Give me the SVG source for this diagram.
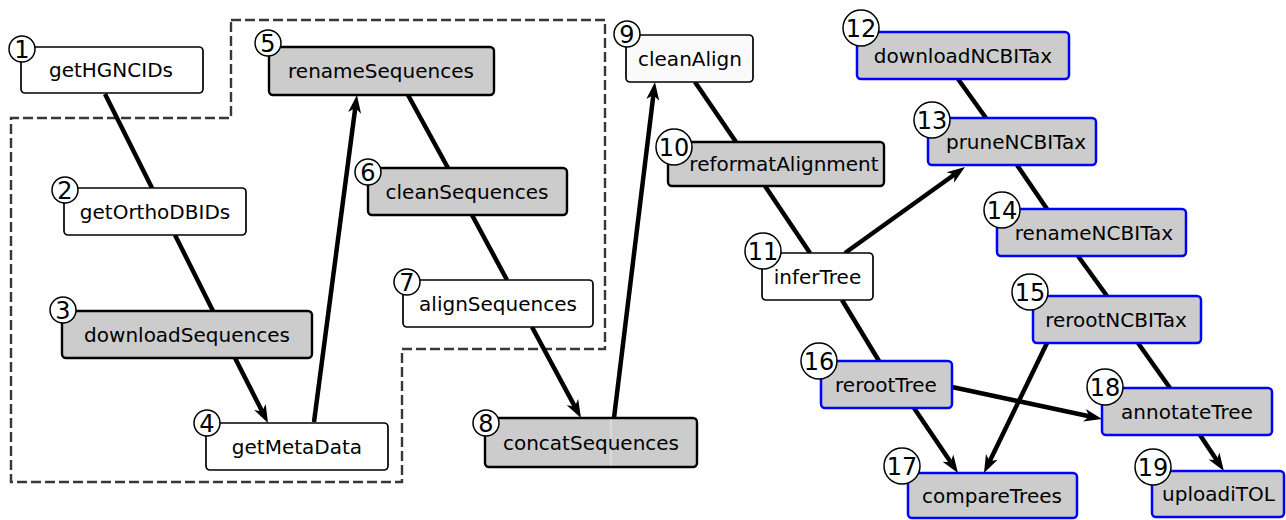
<svg xmlns="http://www.w3.org/2000/svg" width="1286" height="520" viewBox="0 0 1286 520">
<style>
.box{stroke:#000;stroke-width:1.7}
.w{fill:#fff}
.g{fill:#ccc;stroke-width:2.4}
.b{fill:#ccc;stroke:#0000ff;stroke-width:2.5}
.lbl{font-family:"DejaVu Sans",sans-serif;font-size:20px;fill:#000;text-anchor:middle}
.num circle{fill:#fbfffe;stroke:#000;stroke-width:1.5}
.num text{font-family:"DejaVu Sans",sans-serif;font-size:24px;fill:#000;text-anchor:middle}
.edge line{stroke:#000;stroke-width:4.5;fill:none}
.arr{marker-end:url(#ah)}
</style>
<defs>
<marker id="ah" markerUnits="userSpaceOnUse" markerWidth="22" markerHeight="16" viewBox="0 -8 22 16" refX="6" refY="0" orient="auto">
<path d="M0,-6.5 L18,0 L0,6.5 L5,0 Z" fill="#000"/>
</marker>
</defs>
<rect width="1286" height="520" fill="#fff"/>
<path id="group" d="M231,20 H605 V349 H402 V482 H11 V118 H231 Z" fill="none" stroke="#383838" stroke-width="2.4" stroke-dasharray="10 4"/>
<g id="connectors" class="edge">
<line x1="105" y1="94" x2="152" y2="188"/>
<line x1="175" y1="235" x2="213" y2="311"/>
<line class="arr" x1="235" y1="358" x2="262.6" y2="412.3"/>
<line class="arr" x1="314" y1="422" x2="355.4" y2="106.9"/>
<line x1="408" y1="95" x2="448" y2="168"/>
<line x1="472" y1="215" x2="507" y2="280"/>
<line class="arr" x1="532" y1="327" x2="575.3" y2="407.4"/>
<line class="arr" x1="614" y1="418" x2="653.5" y2="93.9"/>
<line x1="695" y1="82" x2="736" y2="142"/>
<line x1="765" y1="186" x2="810" y2="253"/>
<line class="arr" x1="845" y1="253" x2="955.2" y2="174"/>
<line x1="958" y1="79" x2="986" y2="118"/>
<line x1="1017" y1="165" x2="1047" y2="209"/>
<line x1="1078" y1="256" x2="1107" y2="296"/>
<line x1="842" y1="300" x2="879" y2="361"/>
<line x1="1138" y1="343" x2="1170" y2="388"/>
<line class="arr" x1="952" y1="387" x2="1090.3" y2="416.5"/>
<line class="arr" x1="914" y1="408" x2="951.3" y2="463.1"/>
<line class="arr" x1="1047" y1="343" x2="989.2" y2="462.2"/>
<line class="arr" x1="1200" y1="435" x2="1217.3" y2="461"/>
</g>
<g id="n1"><rect class="box w" x="21" y="47" width="182" height="46" rx="4"/><text class="lbl" x="111" y="77">getHGNCIDs</text><g class="num"><circle cx="22" cy="49" r="13"/><text x="22" y="57.5">1</text></g></g>
<g id="n2"><rect class="box w" x="64" y="188" width="182" height="47" rx="4"/><text class="lbl" x="155" y="218.5">getOrthoDBIDs</text><g class="num"><circle cx="65" cy="190" r="13"/><text x="65" y="198.5">2</text></g></g>
<g id="n3"><rect class="box g" x="62" y="311" width="250" height="47" rx="4"/><text class="lbl" x="187" y="341.5">downloadSequences</text><g class="num"><circle cx="63" cy="310" r="13"/><text x="63" y="318.5">3</text></g></g>
<g id="n4"><rect class="box w" x="206" y="423" width="182" height="47" rx="4"/><text class="lbl" x="297" y="453.5">getMetaData</text><g class="num"><circle cx="207" cy="423" r="13"/><text x="207" y="431.5">4</text></g></g>
<g id="n5"><rect class="box g" x="269" y="47" width="225" height="48" rx="4"/><text class="lbl" x="381" y="78">renameSequences</text><g class="num"><circle cx="268" cy="43" r="13"/><text x="268" y="51.5">5</text></g></g>
<g id="n6"><rect class="box g" x="368" y="168" width="199" height="47" rx="4"/><text class="lbl" x="467" y="198.5">cleanSequences</text><g class="num"><circle cx="368" cy="172" r="13"/><text x="368" y="180.5">6</text></g></g>
<g id="n7"><rect class="box w" x="403" y="280" width="190" height="47" rx="4"/><text class="lbl" x="498" y="310.5">alignSequences</text><g class="num"><circle cx="407" cy="282" r="13"/><text x="407" y="290.5">7</text></g></g>
<g id="n8"><rect class="box g" x="485" y="418" width="212" height="49" rx="4"/><line x1="611" y1="419.5" x2="611" y2="465.5" stroke="#e8e8e8" stroke-width="1"/><text class="lbl" x="591" y="449.5">concatSequences</text><g class="num"><circle cx="486" cy="423" r="13"/><text x="486" y="431.5">8</text></g></g>
<g id="n9"><rect class="box" fill="#fafafa" x="626" y="35" width="127" height="47" rx="4"/><text class="lbl" x="690" y="65.5">cleanAlign</text><g class="num"><circle cx="627" cy="34" r="13"/><text x="627" y="42.5">9</text></g></g>
<g id="n10"><rect class="box g" x="668" y="142" width="216" height="44" rx="4"/><text class="lbl" x="784" y="171">reformatAlignment</text><g class="num"><circle cx="674" cy="147" r="18"/><text x="674" y="155.5">10</text></g></g>
<g id="n11"><rect class="box w" x="762" y="253" width="111" height="47" rx="4"/><text class="lbl" x="817.5" y="283.5">inferTree</text><g class="num"><circle cx="763" cy="251" r="18"/><text x="763" y="259.5">11</text></g></g>
<g id="n12"><rect class="b" x="857" y="32" width="212" height="47" rx="4"/><text class="lbl" x="963" y="62.5">downloadNCBITax</text><g class="num"><circle cx="861" cy="28" r="18"/><text x="861" y="36.5">12</text></g></g>
<g id="n13"><rect class="b" x="928" y="118" width="168" height="47" rx="4"/><text class="lbl" x="1016" y="148.5">pruneNCBITax</text><g class="num"><circle cx="932" cy="120" r="18"/><text x="932" y="128.5">13</text></g></g>
<g id="n14"><rect class="b" x="997" y="209" width="189" height="47" rx="4"/><text class="lbl" x="1094" y="239.5">renameNCBITax</text><g class="num"><circle cx="1002" cy="210" r="18"/><text x="1002" y="218.5">14</text></g></g>
<g id="n15"><rect class="b" x="1033" y="296" width="168" height="47" rx="4"/><text class="lbl" x="1116" y="326.5">rerootNCBITax</text><g class="num"><circle cx="1030" cy="292" r="18"/><text x="1030" y="300.5">15</text></g></g>
<g id="n16"><rect class="b" x="821" y="361" width="131" height="47" rx="4"/><text class="lbl" x="886" y="391.5">rerootTree</text><g class="num"><circle cx="819" cy="361" r="18"/><text x="819" y="369.5">16</text></g></g>
<g id="n17"><rect class="b" x="908" y="473" width="169" height="45" rx="4"/><text class="lbl" x="992" y="502.5">compareTrees</text><g class="num"><circle cx="902" cy="466" r="18"/><text x="902" y="474.5">17</text></g></g>
<g id="n18"><rect class="b" x="1102" y="388" width="170" height="47" rx="4"/><text class="lbl" x="1187" y="418.5">annotateTree</text><g class="num"><circle cx="1105" cy="387" r="18"/><text x="1105" y="395.5">18</text></g></g>
<g id="n19"><rect class="b" x="1152" y="471" width="132" height="46" rx="4"/><text class="lbl" x="1218.5" y="501">uploadiTOL</text><g class="num"><circle cx="1153" cy="467" r="18"/><text x="1153" y="475.5">19</text></g></g>
</svg>
